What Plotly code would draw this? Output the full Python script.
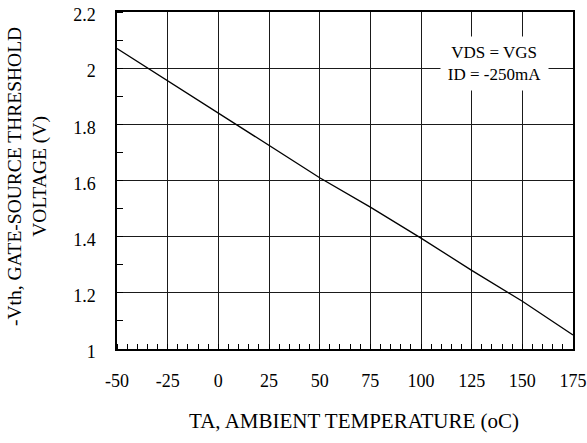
import plotly.graph_objects as go

# Data
temp_c = [-50, -25, 0, 25, 50, 75, 100, 125, 150, 175]
vth_v = [2.07, 1.955, 1.84, 1.725, 1.61, 1.505, 1.395, 1.28, 1.17, 1.05]

x_ticks = [-50, -25, 0, 25, 50, 75, 100, 125, 150, 175]
x_ticktext = ["-50", "-25", "0", "25", "50", "75", "100", "125", "150", "175"]
y_ticks = [1.0, 1.2, 1.4, 1.6, 1.8, 2.0, 2.2]
y_ticktext = ["1", "1.2", "1.4", "1.6", "1.8", "2", "2.2"]

FONT = "Liberation Serif, Times New Roman, serif"

fig = go.Figure()
fig.add_trace(go.Scatter(x=temp_c, y=vth_v, mode="lines",
                         line=dict(color="black", width=1.3),
                         showlegend=False, hoverinfo="skip"))

W, H = 587, 443
L, R, T, B = 117, 14, 12, 94
pw, ph = W - L - R, H - T - B

def px_x(px):
    return (px - L) / pw

def px_y(py):
    return (H - B - py) / ph

fig.update_layout(
    width=W, height=H,
    margin=dict(l=L, r=R, t=T, b=B, pad=0, autoexpand=False),
    paper_bgcolor="white", plot_bgcolor="white",
    font=dict(family=FONT, size=18, color="black"),
    xaxis=dict(range=[-50, 175], tickmode="array", tickvals=x_ticks,
               ticktext=x_ticktext, automargin=False,
               ticks="", showgrid=True, gridcolor="#1a1a1a", gridwidth=1.3,
               showline=True, linecolor="black", linewidth=1.5, mirror=True,
               zeroline=False, ticklabelstandoff=15,
               tickfont=dict(family=FONT, size=18, color="black"),
               minor=dict(ticks="inside", dtick=5, ticklen=5,
                          tickcolor="black", tickwidth=1, showgrid=False)),
    yaxis=dict(range=[1.0, 2.2], tickmode="array", tickvals=y_ticks,
               ticktext=y_ticktext, automargin=False,
               ticks="", showgrid=True, gridcolor="#1a1a1a", gridwidth=1.3,
               showline=True, linecolor="black", linewidth=1.5, mirror=True,
               zeroline=False, ticklabelstandoff=16, ticklabelshift=3,
               tickfont=dict(family=FONT, size=18, color="black"),
               minor=dict(ticks="inside", dtick=0.1, ticklen=6,
                          tickcolor="black", tickwidth=1, showgrid=False)),
    annotations=[
        dict(text="VDS = VGS<br>ID = -250mA", xref="paper", yref="paper",
             x=px_x(494.5), y=px_y(63), xanchor="center", yanchor="middle",
             showarrow=False, bgcolor="white", width=105, height=51,
             font=dict(family=FONT, size=17, color="black")),
        dict(text="TA, AMBIENT TEMPERATURE (oC)", xref="paper", yref="paper",
             x=px_x(354), y=px_y(421), xanchor="center", yanchor="middle",
             showarrow=False, font=dict(family=FONT, size=21, color="black")),
        dict(text="-Vth, GATE-SOURCE THRESHOLD<br>VOLTAGE (V)", xref="paper",
             yref="paper", x=px_x(27), y=px_y(177), xanchor="center",
             yanchor="middle", textangle=-90, showarrow=False,
             font=dict(family=FONT, size=19.5, color="black")),
    ],
)

fig.write_html("out.html")
